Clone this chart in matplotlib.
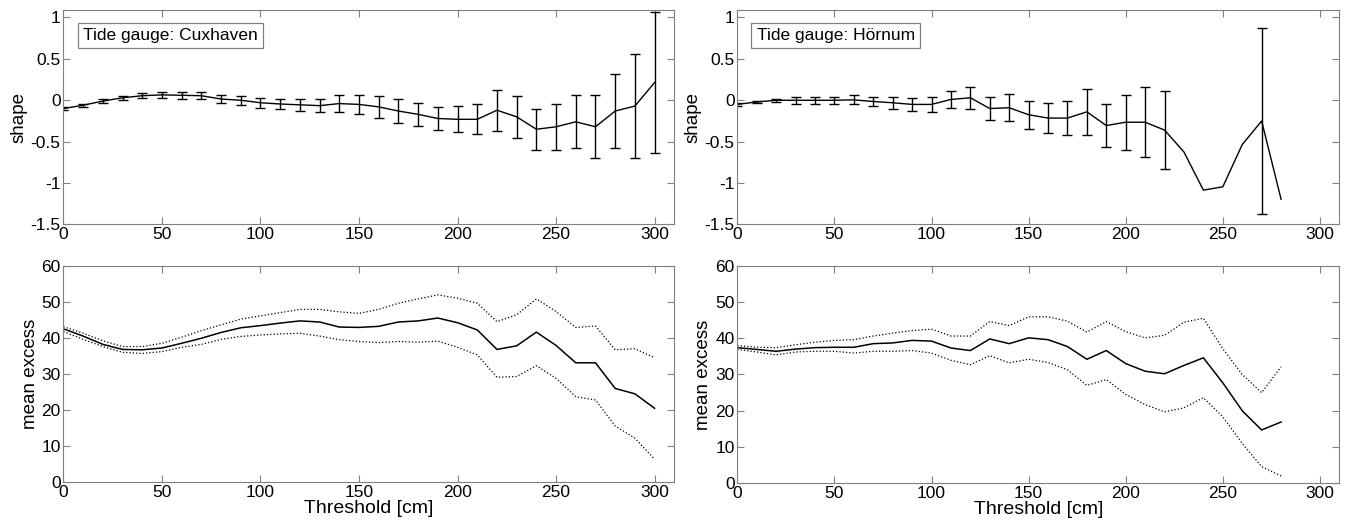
import numpy as np
import matplotlib
matplotlib.use("Agg")
import matplotlib.pyplot as plt

plt.rcParams['font.family'] = ['Liberation Sans', 'DejaVu Sans']

thr = np.arange(0, 310, 10)          # Cuxhaven thresholds 0..300
thr_h = np.arange(0, 290, 10)        # Hörnum thresholds 0..280

# shape parameter and half-width of confidence interval
cux_shape = [-0.10, -0.06, -0.01, 0.03, 0.055, 0.065, 0.06, 0.055, 0.015, 0.0,
             -0.03, -0.045, -0.055, -0.065, -0.04, -0.05, -0.08, -0.13, -0.17, -0.22,
             -0.23, -0.23, -0.12, -0.20, -0.35, -0.32, -0.26, -0.32, -0.13, -0.07, 0.215]
cux_err = [0.02, 0.02, 0.02, 0.025, 0.03, 0.035, 0.04, 0.045, 0.05, 0.055,
           0.06, 0.065, 0.075, 0.075, 0.10, 0.115, 0.13, 0.14, 0.14, 0.14,
           0.155, 0.18, 0.25, 0.25, 0.245, 0.28, 0.32, 0.38, 0.45, 0.63, 0.85]

hor_shape = [-0.05, -0.02, 0.0, 0.0, 0.0, 0.0, 0.005, -0.015, -0.03, -0.05,
             -0.05, 0.01, 0.03, -0.10, -0.09, -0.175, -0.215, -0.215, -0.14, -0.305,
             -0.265, -0.265, -0.36, -0.625, -1.085, -1.045, -0.535, -0.25, -1.195]
hor_err = [0.02, 0.015, 0.02, 0.04, 0.04, 0.045, 0.055, 0.06, 0.07, 0.075,
           0.09, 0.10, 0.13, 0.135, 0.16, 0.17, 0.18, 0.21, 0.28, 0.26,
           0.33, 0.42, 0.47, np.nan, np.nan, np.nan, np.nan, 1.126, np.nan]

# mean excess with confidence bounds
cux_me = [42.5, 40.5, 38.2, 36.8, 36.7, 37.2, 38.5, 39.9, 41.5, 42.8,
          43.4, 44.1, 44.7, 44.4, 43.0, 42.9, 43.2, 44.4, 44.7, 45.5,
          44.2, 42.2, 36.8, 37.8, 41.6, 37.9, 33.1, 33.1, 26.0, 24.5, 20.5]
cux_up = [43.1, 41.3, 39.2, 37.6, 37.6, 38.5, 40.2, 42.0, 43.6, 45.2,
          46.1, 47.0, 47.9, 47.9, 47.2, 46.8, 47.9, 49.6, 50.8, 51.9,
          51.0, 49.6, 44.5, 46.4, 50.8, 47.3, 42.9, 43.3, 36.7, 37.0, 34.5]
cux_lo = [41.7, 39.6, 37.6, 36.0, 35.7, 36.2, 37.4, 38.2, 39.6, 40.4,
          40.8, 41.1, 41.3, 40.5, 39.5, 39.0, 38.7, 39.0, 38.8, 39.1,
          37.4, 35.3, 29.1, 29.3, 32.3, 28.8, 23.7, 22.8, 15.6, 12.2, 6.4]

hor_me = [37.4, 36.9, 36.4, 37.0, 37.4, 37.5, 37.5, 38.5, 38.7, 39.4,
          39.2, 37.3, 36.6, 39.8, 38.5, 40.1, 39.6, 37.7, 34.2, 36.6,
          33.0, 30.9, 30.2, 32.5, 34.6, 27.7, 20.0, 14.7, 16.9]
hor_up = [38.0, 37.5, 37.4, 38.2, 38.9, 39.4, 39.6, 40.6, 41.4, 42.1,
          42.5, 40.6, 40.6, 44.6, 43.5, 45.9, 45.9, 44.7, 41.7, 44.6,
          41.8, 40.1, 40.8, 44.4, 45.5, 37.1, 30.0, 25.0, 32.1]
hor_lo = [36.9, 36.2, 35.4, 36.2, 36.4, 36.4, 35.9, 36.4, 36.4, 36.6,
          35.9, 33.9, 32.7, 35.2, 33.2, 34.2, 33.3, 31.3, 27.0, 28.6,
          24.5, 21.7, 19.7, 20.8, 23.6, 18.3, 11.0, 4.6, 2.0]

fig = plt.figure(figsize=(13.47, 5.26), dpi=100)
ax_tl = fig.add_axes([0.0471, 0.5732, 0.4535, 0.4078])
ax_bl = fig.add_axes([0.0471, 0.0831, 0.4535, 0.4118])
ax_tr = fig.add_axes([0.5474, 0.5732, 0.4469, 0.4078])
ax_br = fig.add_axes([0.5474, 0.0812, 0.4469, 0.4137])


def style(ax):
    ax.set_xlim(0, 310)
    ax.set_xticks([0, 50, 100, 150, 200, 250, 300])
    ax.tick_params(direction='in', top=True, right=True, length=5,
                   width=0.8, color='#808080', labelsize=12.5, pad=2)
    for s in ax.spines.values():
        s.set_color('#808080')
        s.set_linewidth(0.8)


for ax, x, y, e, name in [(ax_tl, thr, cux_shape, cux_err, "Cuxhaven"),
                          (ax_tr, thr_h, hor_shape, hor_err, "Hörnum")]:
    ax.plot(x, y, color='black', lw=1)
    ax.errorbar(x, y, yerr=e, fmt='none', ecolor='black', elinewidth=1,
                capsize=3.5, capthick=1)
    style(ax)
    ax.set_ylim(-1.5, 1.09)
    ax.set_yticks([-1.5, -1, -0.5, 0, 0.5, 1])
    ax.set_yticklabels(['-1.5', '-1', '-0.5', '0', '0.5', '1'])
    ax.set_ylabel("shape", fontsize=13.5, labelpad=2)
    ax.text(0.032, 0.915, f"Tide gauge: {name}", transform=ax.transAxes,
            fontsize=12.5, va='top', ha='left',
            bbox=dict(boxstyle='square,pad=0.3', fc='white', ec='#808080', lw=0.9))

for ax, x, m, u, l in [(ax_bl, thr, cux_me, cux_up, cux_lo),
                       (ax_br, thr_h, hor_me, hor_up, hor_lo)]:
    ax.plot(x, m, color='black', lw=1.1)
    ax.plot(x, u, color='black', lw=0.9, ls=':')
    ax.plot(x, l, color='black', lw=0.9, ls=':')
    style(ax)
    ax.set_ylim(0, 60)
    ax.set_yticks([0, 10, 20, 30, 40, 50, 60])
    ax.set_ylabel("mean excess", fontsize=13.5, labelpad=2)
    ax.set_xlabel("Threshold [cm]", fontsize=14, labelpad=0)

fig.savefig("out.png", dpi=100)
